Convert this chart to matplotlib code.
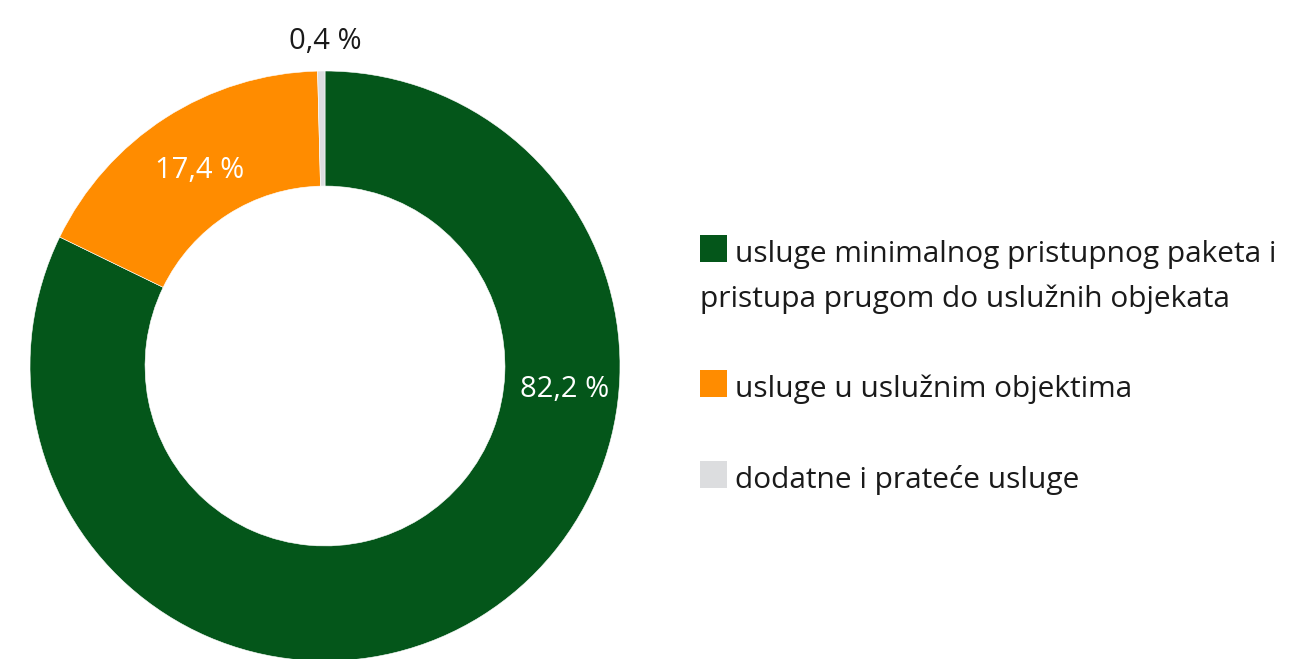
import matplotlib.pyplot as plt
from matplotlib.patches import Rectangle

W, H = 1312, 659

shares = [82.2, 17.4, 0.4]
share_labels = ["82,2 %", "17,4 %", "0,4 %"]
colors = ["#04561a", "#ff8c00", "#dcdddf"]
legend_lines = [
    ["usluge minimalnog pristupnog paketa i", "pristupa prugom do uslužnih objekata"],
    ["usluge u uslužnim objektima"],
    ["dodatne i prateće usluge"],
]

plt.rcParams["font.family"] = ["Open Sans", "DejaVu Sans"]

fig = plt.figure(figsize=(W / 100, H / 100), dpi=100)

# donut: centre (325, 366) px, outer radius 295 px
cx, cy, r = 325, 366, 295
ax = fig.add_axes([(cx - r) / W, (H - cy - r) / H, 2 * r / W, 2 * r / H])
ax.pie(shares, colors=colors, startangle=90, counterclock=False,
       wedgeprops=dict(width=0.39, edgecolor="white", linewidth=0.4))
ax.set_xlim(-1, 1)
ax.set_ylim(-1, 1)
ax.axis("off")

label_pos = [(0.813, -0.08), (-0.424, 0.664), (0.0, 1.10)]
label_col = ["white", "white", "#1a1a1a"]
for (x, y), txt, c in zip(label_pos, share_labels, label_col):
    ax.text(x, y, txt, color=c, fontsize=21, ha="center", va="center",
            clip_on=False)


def fx(px):
    return px / W


def fy(py):
    return 1 - py / H


# legend, drawn inline so wrapped lines start under the swatch
baselines = [262, 397, 488]
for lines, c, base in zip(legend_lines, colors, baselines):
    fig.add_artist(Rectangle((fx(700), fy(base)), 27 / W, 27 / H,
                             transform=fig.transFigure, color=c, lw=0))
    fig.text(fx(735), fy(base), lines[0], fontsize=21.5, color="#1a1a1a",
             va="baseline", ha="left")
    for i, extra in enumerate(lines[1:], 1):
        fig.text(fx(700), fy(base + 45 * i), extra, fontsize=21.5,
                 color="#1a1a1a", va="baseline", ha="left")

fig.savefig("out.png", dpi=100, facecolor="white")
